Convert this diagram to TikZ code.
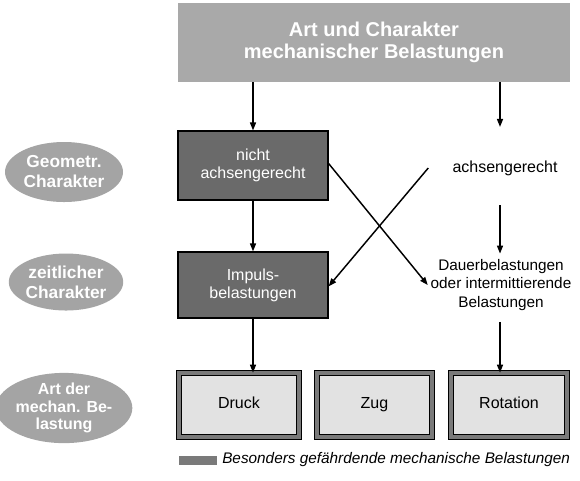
\documentclass[tikz,border=0pt]{standalone}
\usepackage{fontspec}
\setmainfont{Liberation Sans}
\usetikzlibrary{arrows.meta,shapes.geometric}
\definecolor{topfill}{HTML}{A9A9A9}
\definecolor{darkfill}{HTML}{6A6A6A}
\definecolor{ellfill}{HTML}{A4A4A4}
\definecolor{lightfill}{HTML}{E2E2E2}
\definecolor{bandgray}{HTML}{7A7A7A}
\begin{document}
\begin{tikzpicture}[x=0.75pt,y=-0.75pt,
  arr/.style={-{Triangle[length=6pt,width=4.5pt]}, line width=1.1pt, black},
  topbox/.style={rectangle, fill=topfill, text=white, font=\fontsize{15}{16}\selectfont\bfseries, align=center,
    minimum width={392*0.75pt}, minimum height={79*0.75pt}, inner sep=0pt},
  darkbox/.style={rectangle, draw=black, line width=0.9pt, fill=darkfill, text=white,
    font=\fontsize{12}{13.5}\selectfont, align=center,
    minimum width={150*0.75pt}, inner sep=0pt},
  ellbox/.style={ellipse, fill=ellfill, text=white, align=center, inner sep=0pt},
  endbox/.style={rectangle, draw=black, line width=0.5pt, double=bandgray, double distance=2.8pt,
    fill=lightfill, font=\fontsize{12}{14}\selectfont, minimum height={64*0.75pt}, inner sep=0pt,
    text height=0.72em, text depth=0.22em},
  plain/.style={font=\fontsize{12}{14}\selectfont, align=center, inner sep=2pt}
]
\useasboundingbox (0,0) rectangle (580,480);

% top
\node[topbox] (top) at (374,42.5) {Art und Charakter\\mechanischer Belastungen};

% left ellipses
\node[ellbox, minimum width={118*0.75pt}, minimum height={60*0.75pt},
  font=\fontsize{13}{15}\selectfont\bfseries] (e1) at (64,172) {Geometr.\\Charakter};
\node[ellbox, minimum width={112*0.75pt}, minimum height={57*0.75pt},
  font=\fontsize{13}{15}\selectfont\bfseries] (e2) at (66,282) {zeitlicher\\Charakter};
\node[ellbox, minimum width={115*0.75pt}, minimum height={67*0.75pt},
  font=\fontsize{12}{13}\selectfont\bfseries] (e3) at (64,408) {Art der\\mechan. Be-\\lastung};

% middle
\node[darkbox, minimum height={69*0.75pt}] (nicht) at (253,165.5) {nicht\\achsengerecht};
\node[darkbox, minimum height={66*0.75pt}] (impuls) at (253,285) {Impuls-\\belastungen};
\node[plain] (achs) at (505,168) {achsengerecht};
\node[plain, font=\fontsize{11.5}{14}\selectfont] (dauer) at (501,285) {Dauerbelastungen\\oder intermittierende\\Belastungen};

% bottom
\node[endbox, minimum width={120*0.75pt}] (druck) at (239,405) {Druck};
\node[endbox, minimum width={115*0.75pt}] (zug) at (374.5,405) {Zug};
\node[endbox, minimum width={116*0.75pt}] (rot) at (509,405) {Rotation};

% legend
\node[rectangle, fill=bandgray, minimum width={38*0.75pt}, minimum height={9*0.75pt}, inner sep=0pt] (sw) at (198,460) {};
\node[anchor=west, font=\fontsize{11.5}{13}\selectfont\itshape, inner sep=0pt] (leg) at (222,460)
  {Besonders gefährdende mechanische Belastungen};

% arrows
\draw[arr] (top.south -| nicht.north) -- (nicht.north);
\draw[arr] (nicht.south) -- (impuls.north);
\draw[arr] (impuls.south) -- (impuls.south |- druck.north);
\draw[arr] (top.south -| 500,0) -- ([yshift=23pt]achs.north -| 500,0);
\draw[arr] ([yshift=-20pt]achs.south -| 500,0) -- ([yshift=2pt]dauer.north -| 500,0);
\draw[arr] ([yshift=-6pt]dauer.south -| 500,0) -- (rot.north -| 500,0);
\draw[arr] ([yshift=1.5pt]nicht.east) -- (dauer.west);
\draw[arr] ([xshift=-16pt]achs.west) -- ([yshift=-1pt]impuls.east);
\end{tikzpicture}
\end{document}
